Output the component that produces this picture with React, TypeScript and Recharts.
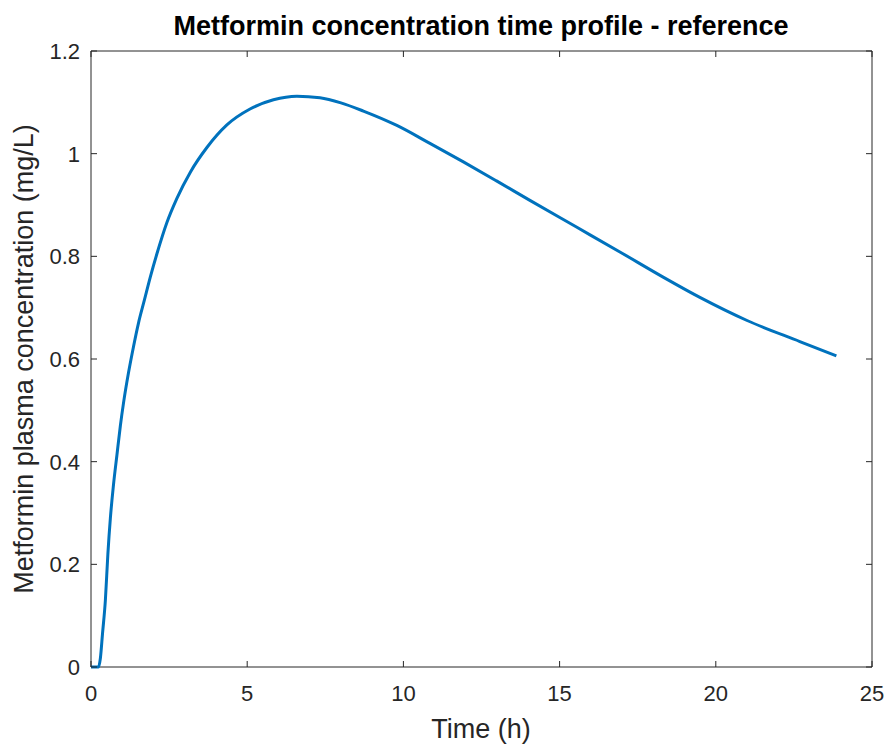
import React from 'react';
import { LineChart, Line, XAxis, YAxis, ReferenceArea } from 'recharts';

const timeH = [0, 0.24, 0.3, 0.37, 0.46, 0.54, 0.62, 0.72, 0.83, 0.94, 1.04, 1.2, 1.36, 1.52, 1.71, 1.9, 2.11, 2.43, 2.75, 3.18, 3.71, 4.35, 5.09, 5.84, 6.59, 7.33, 8.0, 8.72, 9.79, 10.85, 11.92, 12.98, 14.05, 15.54, 17.0, 18.3, 19.49, 21.0, 22.69, 23.86];
const concentration = [0, 0, 0.017, 0.066, 0.13, 0.22, 0.29, 0.355, 0.413, 0.47, 0.514, 0.573, 0.624, 0.67, 0.715, 0.76, 0.805, 0.866, 0.913, 0.964, 1.012, 1.056, 1.087, 1.105, 1.112, 1.109, 1.099, 1.083, 1.055, 1.02, 0.984, 0.947, 0.909, 0.857, 0.806, 0.76, 0.72, 0.675, 0.634, 0.606];
const xTicks = [0, 5, 10, 15, 20, 25];
const yTicks = [0, 0.2, 0.4, 0.6, 0.8, 1, 1.2];

const titleText = 'Metformin concentration time profile - reference';
const xLabel = 'Time (h)';
const yLabel = 'Metformin plasma concentration (mg/L)';

const data = timeH.map((t, i) => ({ t, c: concentration[i] }));

const FONT = '"Liberation Sans", Arial, Helvetica, sans-serif';
const AX = '#262626';
const W = 887;
const H = 744;
const MARGIN = { top: 51, right: 15, bottom: 37, left: 31 };
const PLOT_TOP = MARGIN.top;
const PLOT_RIGHT = W - MARGIN.right;
const TICK_LEN = 6;
const X_GAP = 18;
const Y_GAP = 11;
const TICK_FONT = 22;

const fmtY = (v: number) => String(Math.round(v * 10) / 10);

const XTick = (props: any) => {
  const { x, y, payload } = props;
  const axisY = y - X_GAP;
  return (
    <g>
      <line x1={x} y1={axisY} x2={x} y2={axisY - TICK_LEN} stroke={AX} strokeWidth={1} />
      <line x1={x} y1={PLOT_TOP} x2={x} y2={PLOT_TOP + TICK_LEN} stroke={AX} strokeWidth={1} />
      <text x={x} y={y} dy="0.72em" textAnchor="middle" fontFamily={FONT} fontSize={TICK_FONT} fill={AX}>
        {String(payload.value)}
      </text>
    </g>
  );
};

const YTick = (props: any) => {
  const { x, y, payload } = props;
  const axisX = x + Y_GAP;
  return (
    <g>
      <line x1={axisX} y1={y} x2={axisX + TICK_LEN} y2={y} stroke={AX} strokeWidth={1} />
      <line x1={PLOT_RIGHT} y1={y} x2={PLOT_RIGHT - TICK_LEN} y2={y} stroke={AX} strokeWidth={1} />
      <text x={x} y={y} dy="0.36em" textAnchor="end" fontFamily={FONT} fontSize={TICK_FONT} fill={AX}>
        {fmtY(payload.value)}
      </text>
    </g>
  );
};

export default function App() {
  return (
    <div style={{ position: 'absolute', left: 0, top: 0, width: W, height: H, background: '#fff' }}>
      <LineChart width={W} height={H} data={data} margin={MARGIN}>
        <ReferenceArea
          x1={0}
          x2={25}
          y1={0}
          y2={1.2}
          fill="none"
          fillOpacity={0}
          stroke={AX}
          strokeWidth={1}
          ifOverflow="visible"
        />
        <XAxis
          dataKey="t"
          type="number"
          domain={[0, 25]}
          ticks={xTicks}
          interval={0}
          height={40}
          tickSize={0}
          tickMargin={X_GAP}
          tick={<XTick />}
          axisLine={false}
          tickLine={false}
        />
        <YAxis
          type="number"
          domain={[0, 1.2]}
          ticks={yTicks}
          interval={0}
          width={60}
          tickSize={0}
          tickMargin={Y_GAP}
          tick={<YTick />}
          axisLine={false}
          tickLine={false}
        />
        <Line
          type="monotone"
          dataKey="c"
          stroke="#0072BD"
          strokeWidth={3}
          dot={false}
          isAnimationActive={false}
        />
      </LineChart>
      <svg width={W} height={H} style={{ position: 'absolute', left: 0, top: 0, pointerEvents: 'none' }}>
        <text x={481} y={35} textAnchor="middle" fontFamily={FONT} fontWeight="bold" fontSize={27} fill="#000">
          {titleText}
        </text>
        <text x={481} y={738} textAnchor="middle" fontFamily={FONT} fontSize={27} fill={AX}>
          {xLabel}
        </text>
        <text transform="translate(33,359) rotate(-90)" textAnchor="middle" fontFamily={FONT} fontSize={27} fill={AX}>
          {yLabel}
        </text>
      </svg>
    </div>
  );
}
